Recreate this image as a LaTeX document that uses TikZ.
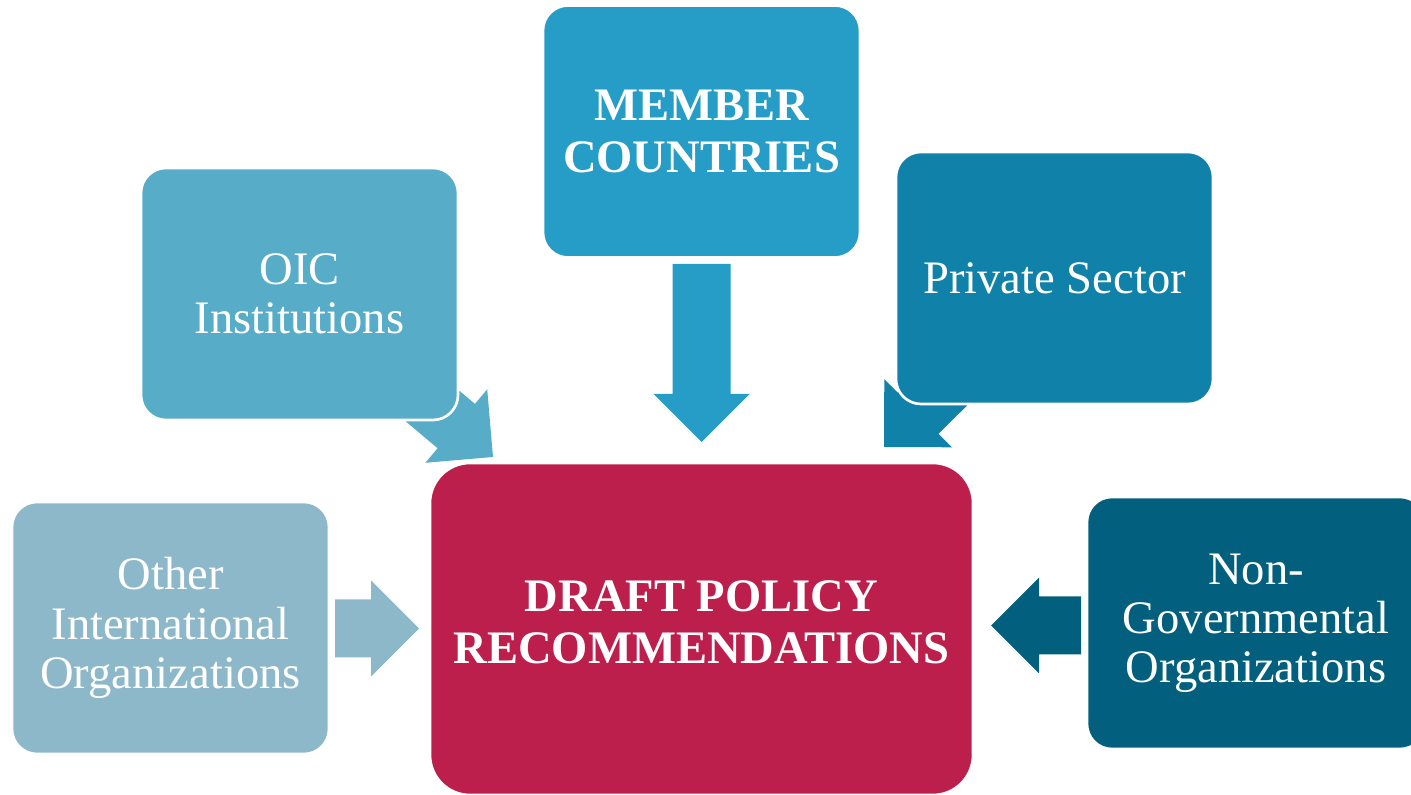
\documentclass[tikz,border=0pt]{standalone}
\usepackage{fontspec}
\setmainfont{Liberation Serif}
\usetikzlibrary{calc,backgrounds}

\definecolor{membercol}{HTML}{259DC6}
\definecolor{oiccol}{HTML}{57ACC8}
\definecolor{privcol}{HTML}{1082A9}
\definecolor{othercol}{HTML}{8DB8CA}
\definecolor{ngocol}{HTML}{02607E}
\definecolor{draftcol}{HTML}{BC1F4B}

% block arrow: #1 fill, #2 from, #3 tip
\newcommand{\blockarrow}[3]{%
  \coordinate (hb) at ($(#3)!0.96cm!(#2)$);
  \fill[#1] ($(#2)!0.58cm!90:(#3)$) -- ($(hb)!0.58cm!90:(#3)$) -- ($(hb)!0.96cm!90:(#3)$) -- (#3)
    -- ($(hb)!0.96cm!-90:(#3)$) -- ($(hb)!0.58cm!-90:(#3)$) -- ($(#2)!0.58cm!-90:(#3)$) -- cycle;
}

\begin{document}
\begin{tikzpicture}[box/.style={rounded corners=0.5cm,draw=white,line width=1.5pt,text=white,align=center,inner sep=0pt,minimum width=6.34cm,minimum height=5.04cm,font=\fontsize{26.5}{28}\selectfont},
    boldbox/.style={box,font=\bfseries\fontsize{26.5}{29.5}\selectfont}]

            \useasboundingbox (0,0) rectangle (28.22,15.9);

            \node[boldbox, fill=membercol] (mc) at (14.03,13.27) {MEMBER\\COUNTRIES};
            \node[box, fill=oiccol] (oic) at (5.99,10.02) {OIC\\Institutions};
            \node[box, fill=privcol] (ps) at (21.09,10.34) {Private Sector};
            \node[box, fill=othercol] (other) at (3.41,3.34) {Other\\International\\Organizations};
            \node[box, fill=ngocol, minimum width=6.76cm] (ngo) at (25.12,3.44) {Non-\\Governmental\\Organizations};
            \node[boldbox, fill=draftcol, rounded corners=0.8cm, minimum width=10.86cm, minimum height=6.64cm, text depth=0.28cm] (draft) at (14.03,3.32) {DRAFT POLICY\\RECOMMENDATIONS};

            \coordinate (mcstart) at ($(mc.south)+(0,-0.1)$);
            \coordinate (mctip) at (14.03,7.06);
            \coordinate (oictip) at (9.86,6.76);
            \coordinate (pstip) at (17.68,6.96);
            \coordinate (otherstart) at (6.70,3.33);
            \coordinate (othertip) at (8.38,3.33);
            \coordinate (ngostart) at (21.62,3.39);
            \coordinate (ngotip) at (19.82,3.39);

            \begin{scope}[on background layer]
                \blockarrow{oiccol}{oic}{oictip}
                \blockarrow{privcol}{ps}{pstip}
            \end{scope}
            \blockarrow{membercol}{mcstart}{mctip}
            \blockarrow{othercol}{otherstart}{othertip}
            \blockarrow{ngocol}{ngostart}{ngotip}
        \end{tikzpicture}
\end{document}
